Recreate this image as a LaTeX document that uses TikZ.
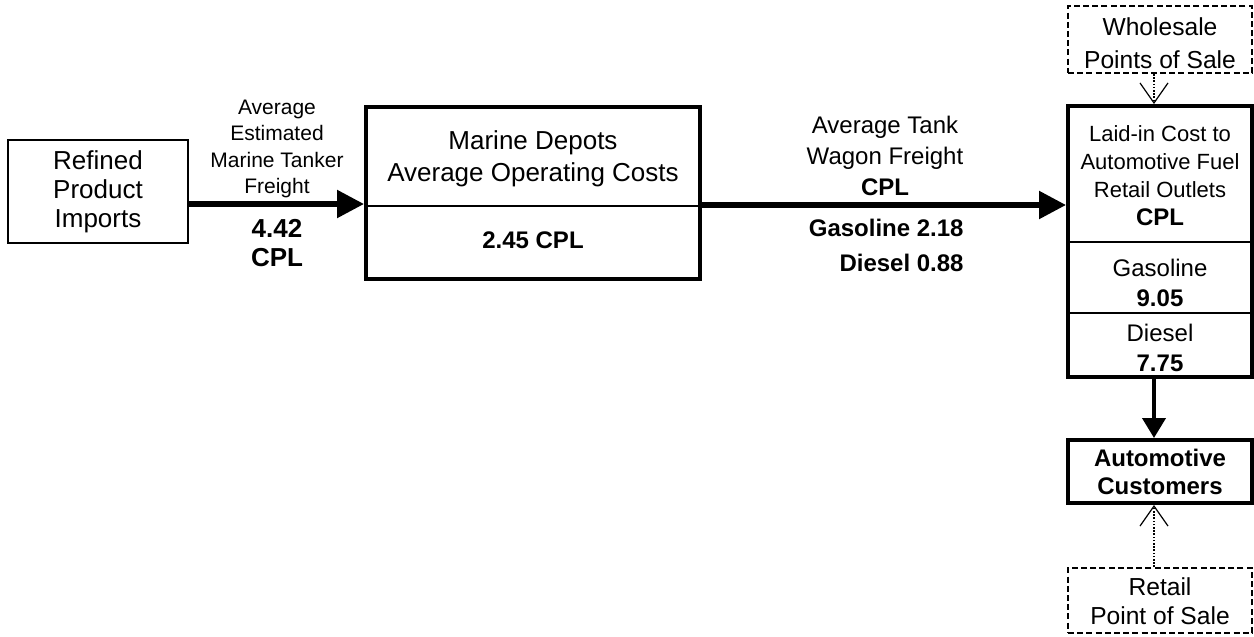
\documentclass[tikz,border=0pt]{standalone}
\usepackage{fontspec}
\setmainfont{Liberation Sans}
\usetikzlibrary{arrows.meta}
\newcommand{\fs}[2]{\fontsize{#1}{#2}\selectfont}
\tikzset{
  thinbox/.style={draw, line width=1pt, rectangle, inner sep=0pt, align=center},
  thickbox/.style={draw, line width=2pt, rectangle, inner sep=0pt, align=center},
  dashbox/.style={draw, line width=1pt, dash pattern=on 3pt off 1.6pt, rectangle, inner sep=0pt, align=center},
  lbl/.style={inner sep=0pt, align=center},
  bigarr/.style={line width=2.7pt, -{Triangle[length=13.5pt,width=13.5pt]}},
  downarr/.style={line width=2pt, -{Triangle[length=10pt,width=11.5pt]}},
  dotarr/.style={line width=0.6pt, dash pattern=on 0.8pt off 0.8pt, -{Straight Barb[length=10pt,width=14pt,line width=0.6pt]}},
  divline/.style={line width=1pt}
}
\begin{document}
\begin{tikzpicture}[x=0.5pt,y=-0.5pt]
\useasboundingbox (0,0) rectangle (1254,637);
% boxes
\node[thinbox, minimum width=90pt, minimum height=51.5pt, font=\fs{13}{14.5}] (ref) at (98,191.5) {Refined\\Product\\Imports};
\node[thickbox, minimum width=167pt, minimum height=86pt] (mar) at (533,193) {};
\node[thickbox, minimum width=92pt, minimum height=135.5pt] (lai) at (1160,241.5) {};
\node[thickbox, minimum width=92pt, minimum height=31.5pt, font=\fs{12}{14}\bfseries] (cus) at (1160,471.5) {Automotive\\Customers};
\node[dashbox, minimum width=92pt, minimum height=33.5pt] (whl) at (1160,39.5) {};
\node[dashbox, minimum width=92pt, minimum height=32.5pt] (ret) at (1160,600.5) {};
\node[lbl, font=\fs{12.3}{16.5}] (whltext) at (1160,43) {Wholesale\\Points of Sale};
\node[lbl, font=\fs{12.3}{14.5}] (rettext) at (1160,601) {Retail\\Point of Sale};
% dividers
\coordinate (d1) at (0,206);
\coordinate (d2) at (0,242);
\coordinate (d3) at (0,313);
\draw[divline] (mar.west |- d1) -- (mar.east |- d1);
\draw[divline] (lai.west |- d2) -- (lai.east |- d2);
\draw[divline] (lai.west |- d3) -- (lai.east |- d3);
% texts in boxes
\node[lbl, font=\fs{13}{16}] (martitle) at (533,159) {Marine Depots\\Average Operating Costs};
\node[lbl, font=\fs{12}{14}\bfseries] (marval) at (533,240) {2.45 CPL};
\node[lbl, font=\fs{11}{14}] (laititle) at (1160,176) {Laid-in Cost to\\Automotive Fuel\\Retail Outlets\\\fontsize{12}{14}\selectfont\bfseries CPL};
\node[lbl, font=\fs{12}{15}] (laigas) at (1160,283) {Gasoline\\\bfseries 9.05};
\node[lbl, font=\fs{12}{15}] (laidie) at (1160,348) {Diesel\\\bfseries 7.75};
% connector labels
\node[lbl, font=\fs{10.5}{13.3}] (a1lbl) at (277,149) {Average\\Estimated\\Marine Tanker\\Freight};
\node[lbl, font=\fs{13}{14.5}\bfseries] (a1val) at (277,243) {4.42\\CPL};
\node[lbl, font=\fs{12}{15.5}] (a2lbl) at (885,156) {Average Tank\\Wagon Freight\\\bfseries CPL};
\node[lbl, font=\fs{12}{17.5}\bfseries, align=right, anchor=east] (a2val) at (964,245) {Gasoline 2.18\\Diesel 0.88};
% connectors
\coordinate (y1) at (0,204);
\coordinate (y2) at (0,205);
\coordinate (xv) at (1154,0);
\draw[bigarr] (ref.east |- y1) -- (mar.west |- y1);
\draw[bigarr] (mar.east |- y2) -- (lai.west |- y2);
\draw[downarr] (lai.south -| xv) -- (cus.north -| xv);
\draw[dotarr] (whl.south -| xv) -- (lai.north -| xv);
\draw[dotarr] (ret.north -| xv) -- (cus.south -| xv);
\end{tikzpicture}
\end{document}
